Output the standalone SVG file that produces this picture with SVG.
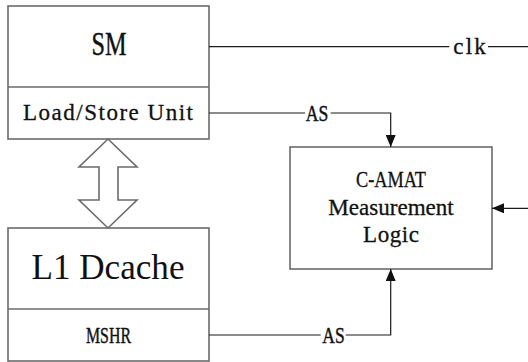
<svg xmlns="http://www.w3.org/2000/svg" width="528" height="362" viewBox="0 0 528 362">
  <style>
    .box { fill: #ffffff; stroke: #6b6b6b; stroke-width: 1.6; }
    .wire { fill: none; stroke: #1a1a1a; stroke-width: 1.2; }
    .serif { font-family: "Liberation Serif", "Times New Roman", serif; fill: #111111; }
    .heavy { stroke: #111111; stroke-width: 0.45; }
    .label { font-family: "Liberation Serif", "Times New Roman", serif; fill: #111111; stroke: #111111; stroke-width: 0.3; }
  </style>
  <defs>
    <marker id="head" viewBox="0 0 12 10" refX="12" refY="5" markerWidth="12" markerHeight="10" markerUnits="userSpaceOnUse" orient="auto">
      <path d="M0,0 L12,5 L0,10 Z" fill="#111111"/>
    </marker>
  </defs>

  <rect width="528" height="362" fill="#ffffff"/>

  <!-- SM with its load/store unit -->
  <g id="sm">
    <rect class="box" x="8" y="6" width="201" height="133"/>
    <line class="box" x1="8" y1="87" x2="209" y2="87"/>
    <text class="serif heavy" x="109" y="55" font-size="33" text-anchor="middle" textLength="35" lengthAdjust="spacingAndGlyphs">SM</text>
    <text class="label" x="108" y="120" font-size="23" text-anchor="middle" textLength="170" lengthAdjust="spacing">Load/Store Unit</text>
  </g>

  <!-- L1 data cache with MSHR -->
  <g id="l1dcache">
    <rect class="box" x="8" y="228" width="201" height="133"/>
    <line class="box" x1="8" y1="309" x2="209" y2="309"/>
    <text class="serif" x="108" y="279" font-size="35" text-anchor="middle" textLength="153" lengthAdjust="spacingAndGlyphs">L1 Dcache</text>
    <text class="serif heavy" x="108.5" y="342.7" font-size="24" text-anchor="middle" textLength="45" lengthAdjust="spacingAndGlyphs">MSHR</text>
  </g>

  <!-- C-AMAT measurement logic -->
  <g id="camat">
    <rect class="box" x="290" y="147" width="202" height="122"/>
    <text class="label" x="391" y="186.7" font-size="23" text-anchor="middle" textLength="70" lengthAdjust="spacingAndGlyphs">C-AMAT</text>
    <text class="label" x="391" y="214.5" font-size="23" text-anchor="middle" textLength="125.6" lengthAdjust="spacingAndGlyphs">Measurement</text>
    <text class="label" x="391" y="241.5" font-size="23" text-anchor="middle" textLength="56" lengthAdjust="spacing">Logic</text>
  </g>

  <!-- connectors -->
  <g id="connectors">
    <!-- bidirectional block arrow between LSU and L1 -->
    <polygon class="box" points="108,139 137,167 118,167 118,200 137,200 108,228 79,200 99,200 99,167 79,167"/>

    <!-- clk -->
    <line class="wire" x1="209" y1="46.7" x2="449.3" y2="46.7"/>
    <line class="wire" x1="488" y1="46.7" x2="528" y2="46.7"/>
    <text class="label" x="469.5" y="54" font-size="23" text-anchor="middle" textLength="32.4" lengthAdjust="spacing">clk</text>

    <!-- AS from load/store unit -->
    <line class="wire" x1="209" y1="113" x2="305" y2="113"/>
    <path class="wire" d="M330.7,113 H390.7 V147" marker-end="url(#head)"/>
    <text class="serif heavy" x="317" y="120.7" font-size="24" text-anchor="middle" textLength="22.6" lengthAdjust="spacingAndGlyphs">AS</text>

    <!-- AS from MSHR -->
    <line class="wire" x1="209" y1="335" x2="320.7" y2="335"/>
    <path class="wire" d="M345.7,335 H390.7 V269" marker-end="url(#head)"/>
    <text class="serif heavy" x="333.5" y="342.7" font-size="24" text-anchor="middle" textLength="22.4" lengthAdjust="spacingAndGlyphs">AS</text>

    <!-- input from the right -->
    <line class="wire" x1="528" y1="208.3" x2="492" y2="208.3" marker-end="url(#head)"/>
  </g>
</svg>
